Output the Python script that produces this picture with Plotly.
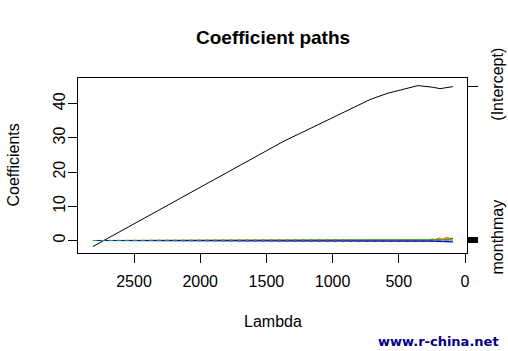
import plotly.graph_objects as go

# Lambda knots (x) and coefficient paths
lambda_vals = [2810, 1375, 718, 589, 355, 280, 240, 189, 140, 91]
intercept   = [-1.75, 28.9, 41.2, 43.0, 45.3, 45.0, 44.8, 44.4, 44.6, 45.0]
month_feb   = [0, 0, 0, 0, 0, 0.0, 0.55, 0.60, 0.75, 0.85]
month_mar   = [0, 0, 0, 0, 0, 0.0, 0.30, 0.45, 0.60, 0.70]
month_apr   = [0, 0, 0, 0, 0, 0.0, 0.20, 0.35, 0.45, 0.60]
month_jun   = [0, 0, 0, 0, 0, 0.0, 0.10, 0.25, 0.40, 0.50]
month_jul   = [0, 0, 0, 0, 0, 0.0, 0.10, 0.20, 0.30, 0.40]
month_aug   = [0, 0, 0, 0, 0, 0.0, 0.00, 0.05, 0.10, 0.15]
month_sep   = [0, 0, 0, 0, 0, 0.0, 0.00, -0.05, -0.05, -0.10]
month_oct   = [0, 0, 0, 0, 0, 0.0, 0.00, -0.10, -0.20, -0.25]
month_nov   = [0, 0, 0, 0, 0, 0.0, -0.10, -0.20, -0.30, -0.35]
month_dec   = [0, 0, 0, 0, 0, 0.0, -0.15, -0.30, -0.35, -0.45]
month_may   = [0, 0, 0, 0, 0, 0.0, 0.05, 0.10, 0.20, 0.28]

x_ticks = [2500, 2000, 1500, 1000, 500, 0]
y_ticks = [0, 10, 20, 30, 40]

series = [
    ("(Intercept)", intercept, "black", "solid"),
    ("monthfeb", month_feb, "#FF0000", "4px,4px"),
    ("monthmar", month_mar, "#FFFF00", "solid"),
    ("monthapr", month_apr, "#FF0000", "solid"),
    ("monthjun", month_jun, "#FFFF00", "4px,4px"),
    ("monthjul", month_jul, "#00CD00", "solid"),
    ("monthaug", month_aug, "#FF00FF", "4px,4px"),
    ("monthsep", month_sep, "#00FFFF", "solid"),
    ("monthoct", month_oct, "#FF0000", "solid"),
    ("monthnov", month_nov, "#0000FF", "4px,4px"),
    ("monthdec", month_dec, "#0000FF", "solid"),
    ("monthmay", month_may, "#00CD00", "4px,4px"),
]

fig = go.Figure()
for name, vals, col, dash in series:
    fig.add_trace(go.Scatter(x=lambda_vals, y=vals, mode="lines", name=name,
                             line=dict(color=col, width=1, dash=dash),
                             showlegend=False, hoverinfo="skip"))

# right axis: tick at every final coefficient, only non-overlapping labels shown
shown = {"(Intercept)", "monthmay"}
finals = [vals[-1] for _, vals, _, _ in series]
labels = [name if name in shown else "" for name, _, _, _ in series]
fig.add_trace(go.Scatter(x=[lambda_vals[-1]] * len(finals), y=finals, yaxis="y2",
                         mode="markers", marker=dict(opacity=0), showlegend=False,
                         hoverinfo="skip"))

font = "Liberation Sans, Arial, sans-serif"
yr = [-3.655, 47.52]
fig.update_layout(
    width=508, height=351,
    margin=dict(l=78, r=41, t=78, b=98),
    paper_bgcolor="white", plot_bgcolor="white",
    font=dict(family=font, size=16, color="black"),
    xaxis=dict(range=[2923, -15.1], tickvals=x_ticks, ticks="outside", ticklen=9,
               tickcolor="black", showline=True, linecolor="black", linewidth=1,
               mirror=True, showgrid=False, zeroline=False, automargin=False,
               tickfont=dict(size=16), ticklabelstandoff=5),
    yaxis=dict(range=yr, tickvals=y_ticks, ticks="outside", ticklen=9,
               tickcolor="black", showline=True, linecolor="black", linewidth=1,
               mirror=True, showgrid=False, zeroline=False, tickangle=-90,
               automargin=False, tickfont=dict(size=16), ticklabelstandoff=-3),
    yaxis2=dict(range=yr, overlaying="y", side="right", tickvals=finals,
                ticktext=labels, ticks="outside", ticklen=10, tickcolor="black",
                showgrid=False, zeroline=False, tickangle=-90, showline=False,
                automargin=False, tickfont=dict(size=16), ticklabelstandoff=6),
    annotations=[
        dict(text="<b>Coefficient paths</b>", x=0.5, y=(253 - 38) / 175,
             xref="paper", yref="paper", showarrow=False, font=dict(size=19),
             xanchor="center", yanchor="middle"),
        dict(text="Lambda", x=0.5, y=(253 - 321) / 175, xref="paper", yref="paper",
             showarrow=False, font=dict(size=16), xanchor="center", yanchor="middle"),
        dict(text="Coefficients", x=(13 - 78) / 389, y=0.5, xref="paper",
             yref="paper", showarrow=False, textangle=-90, font=dict(size=16),
             xanchor="center", yanchor="middle"),
        dict(text="<b>www.r-china.net</b>", x=(438 - 78) / 389, y=(253 - 341) / 175,
             xref="paper", yref="paper", showarrow=False,
             font=dict(family="DejaVu Sans", size=13, color="#00008B"),
             xanchor="center", yanchor="middle"),
    ],
)

fig.write_html("out.html")
